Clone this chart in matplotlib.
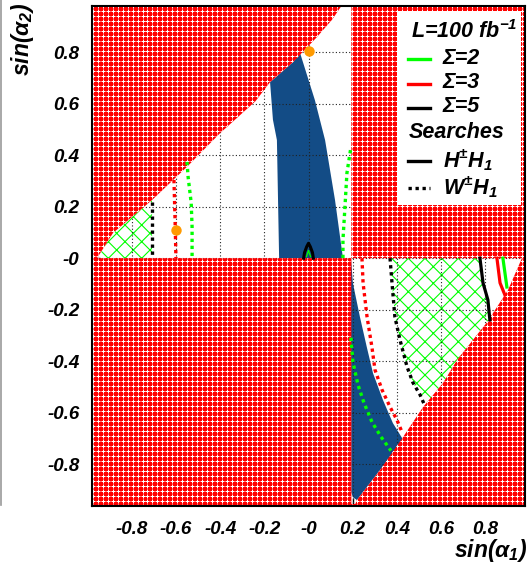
import numpy as np
import matplotlib
matplotlib.use('Agg')
import matplotlib.pyplot as plt
from matplotlib.path import Path
from matplotlib.patches import PathPatch, Polygon, Rectangle
from matplotlib.lines import Line2D

plt.rcParams['font.family'] = ['Liberation Sans', 'DejaVu Sans']
plt.rcParams['font.weight'] = 'bold'
plt.rcParams['font.style'] = 'italic'
plt.rcParams['mathtext.fontset'] = 'custom'
plt.rcParams['mathtext.rm'] = 'Liberation Sans:bold:italic'
plt.rcParams['mathtext.it'] = 'Liberation Sans:bold:italic'
plt.rcParams['mathtext.bf'] = 'Liberation Sans:bold:italic'
plt.rcParams['mathtext.sf'] = 'Liberation Sans:bold:italic'
plt.rcParams['hatch.linewidth'] = 0.8

# ---------------- data ----------------
x_lim = (-0.98, 0.98)
y_lim = (-0.963, 0.98)
tick_vals = [-0.8, -0.6, -0.4, -0.2, 0.0, 0.2, 0.4, 0.6, 0.8]
tick_labels = ['-0.8', '-0.6', '-0.4', '-0.2', '-0', '0.2', '0.4', '0.6', '0.8']

# allowed (white) regions
allowed_up_x = [-0.957, -0.885, -0.708, -0.55, -0.40, -0.24, -0.174, -0.07, 0.038, 0.106, 0.165, 0.194, 0.194]
allowed_up_y = [0.0, 0.098, 0.226, 0.355, 0.486, 0.61, 0.684, 0.762, 0.859, 0.926, 1.0, 1.0, 0.0]
allowed_lo_x = [0.194, 0.194, 0.212, 0.219, 0.324, 0.428, 0.518, 0.609, 0.672, 0.744, 0.808, 0.853, 0.903, 0.966]
allowed_lo_y = [0.0, -0.955, -0.955, -0.94, -0.823, -0.695, -0.579, -0.485, -0.396, -0.318, -0.249, -0.190, -0.124, 0.0]

# blue regions
blue_up_x = [-0.174, -0.161, -0.143, -0.133, 0.156, 0.12, 0.075, 0.029, -0.038, -0.07]
blue_up_y = [0.684, 0.538, 0.459, 0.0, 0.0, 0.226, 0.459, 0.614, 0.797, 0.762]
blue_lo_x = [0.192, 0.201, 0.233, 0.264, 0.292, 0.337, 0.382, 0.428, 0.324, 0.219, 0.2, 0.194]
blue_lo_y = [0.0, -0.097, -0.229, -0.346, -0.447, -0.551, -0.641, -0.705, -0.823, -0.94, -0.928, -0.91]

# green hatched regions
hatch_up_x = [-0.957, -0.885, -0.708, -0.708]
hatch_up_y = [0.0, 0.098, 0.226, 0.0]
hatch_lo_x = [0.369, 0.378, 0.391, 0.414, 0.446, 0.473, 0.505, 0.527, 0.609, 0.672, 0.744, 0.808, 0.821, 0.812, 0.790, 0.776]
hatch_lo_y = [0.0, -0.096, -0.228, -0.317, -0.422, -0.484, -0.531, -0.574, -0.485, -0.396, -0.318, -0.249, -0.240, -0.162, -0.096, 0.0]

# W+-H1 searches (dotted)
w_s2_a_x = [-0.55, -0.545, -0.531, -0.527, -0.527]
w_s2_a_y = [0.374, 0.316, 0.215, 0.122, 0.0]
w_s2_b_x = [0.190, 0.174, 0.165, 0.156, 0.156]
w_s2_b_y = [0.42, 0.331, 0.199, 0.071, 0.0]
w_s2_c_x = [0.192, 0.201, 0.224, 0.251, 0.287, 0.328, 0.373]
w_s2_c_y = [-0.309, -0.403, -0.492, -0.562, -0.636, -0.694, -0.748]
w_s3_a_x = [-0.609, -0.604, -0.600]
w_s3_a_y = [0.304, 0.149, 0.0]
w_s3_b_x = [0.242, 0.247, 0.265, 0.287, 0.301, 0.333, 0.369, 0.400, 0.423]
w_s3_b_y = [0.0, -0.096, -0.228, -0.345, -0.434, -0.512, -0.578, -0.628, -0.675]
w_s5_a_x = [-0.708, -0.708]
w_s5_a_y = [0.217, 0.0]
w_s5_b_x = [0.369, 0.378, 0.391, 0.414, 0.446, 0.473, 0.505, 0.527]
w_s5_b_y = [0.0, -0.096, -0.228, -0.317, -0.422, -0.484, -0.531, -0.574]

# H+-H1 searches (solid)
h_s2_x = [0.880, 0.898]
h_s2_y = [0.0, -0.112]
h_s3_x = [0.853, 0.867, 0.889]
h_s3_y = [0.0, -0.096, -0.143]
h_s5_x = [0.776, 0.790, 0.812, 0.821]
h_s5_y = [0.0, -0.096, -0.162, -0.240]

# small contour near origin
spot_black_x = [-0.022, -0.018, -0.008, 0.0, 0.008, 0.018, 0.022]
spot_black_y = [0.0, 0.022, 0.045, 0.058, 0.045, 0.022, 0.0]
spot_green_x = [-0.009, 0.0, 0.009]
spot_green_y = [0.006, 0.03, 0.006]

# benchmark points
bench_x = [0.0, -0.600]
bench_y = [0.805, 0.109]

# ---------------- styling ----------------
RED = '#ff0000'
GREEN = '#00ff00'
BLUE = '#134c86'
ORANGE = '#ff9a00'
dotted = (0, (1.0, 1.1))

fig = plt.figure(figsize=(5.28, 5.66), dpi=100)
ax = fig.add_axes([92/528, 1-506/566, 433/528, 500/566])
ax.set_xlim(*x_lim)
ax.set_ylim(*y_lim)

# blue & hatches
ax.add_patch(Polygon(np.column_stack([blue_up_x, blue_up_y]), closed=True, fc=BLUE, ec='none', zorder=1))
ax.add_patch(Polygon(np.column_stack([blue_lo_x, blue_lo_y]), closed=True, fc=BLUE, ec='none', zorder=1))
for hx, hy in [(hatch_up_x, hatch_up_y), (hatch_lo_x, hatch_lo_y)]:
    ax.add_patch(Polygon(np.column_stack([hx, hy]), closed=True, fc='none', ec=GREEN,
                         hatch='xx', lw=0, zorder=1.2))

# grid
for v in tick_vals:
    ax.axvline(v, color='#222222', lw=0.8, ls=(0, (1, 2)), zorder=2)
    ax.axhline(v, color='#222222', lw=0.8, ls=(0, (1, 2)), zorder=2)

# red excluded region = frame minus allowed regions
def ring(xs, ys, ccw=True):
    pts = np.column_stack([xs, ys])
    area = 0.5 * np.sum(pts[:, 0] * np.roll(pts[:, 1], -1) - np.roll(pts[:, 0], -1) * pts[:, 1])
    if (area > 0) != ccw:
        pts = pts[::-1]
    verts = np.vstack([pts, pts[:1]])
    codes = [Path.MOVETO] + [Path.LINETO] * (len(pts) - 1) + [Path.CLOSEPOLY]
    return verts, codes

v0, c0 = ring([-1.2, 1.2, 1.2, -1.2], [-1.2, -1.2, 1.2, 1.2], True)
v1, c1 = ring(allowed_up_x, allowed_up_y, False)
v2, c2 = ring(allowed_lo_x, allowed_lo_y, False)
red_path = Path(np.vstack([v0, v1, v2]), c0 + c1 + c2)
red_patch = PathPatch(red_path, fc=RED, ec='none', zorder=2.2)
ax.add_patch(red_patch)

# dotted texture on the red region
gx, gy = np.meshgrid(np.arange(-1.0, 1.0, 0.0226), np.arange(-1.0, 1.0, 0.0194))
tex, = ax.plot(gx.ravel(), gy.ravel(), ls='none', marker='+', ms=2.3, mew=0.7,
               color='white', zorder=2.3)
tex.set_clip_path(red_patch)

# contour lines
for xs, ys, col in [(w_s2_a_x, w_s2_a_y, GREEN), (w_s2_b_x, w_s2_b_y, GREEN), (w_s2_c_x, w_s2_c_y, GREEN),
                    (w_s3_a_x, w_s3_a_y, RED), (w_s3_b_x, w_s3_b_y, RED),
                    (w_s5_a_x, w_s5_a_y, 'black'), (w_s5_b_x, w_s5_b_y, 'black')]:
    ax.plot(xs, ys, color=col, lw=2.4, ls=dotted, dash_capstyle='butt', zorder=4)
for xs, ys, col in [(h_s2_x, h_s2_y, GREEN), (h_s3_x, h_s3_y, RED), (h_s5_x, h_s5_y, 'black')]:
    ax.plot(xs, ys, color=col, lw=2.3, ls='-', zorder=4)

ax.plot(spot_black_x, spot_black_y, color='black', lw=2.2, zorder=4)
ax.plot(spot_green_x, spot_green_y, color=GREEN, lw=0.9, zorder=4.1)

ax.plot(bench_x, bench_y, ls='none', marker='o', ms=7.5, color=ORANGE, mec='none', zorder=6)

# axes styling
ax.set_xticks(tick_vals)
ax.set_yticks(tick_vals)
ax.set_xticklabels(tick_labels)
ax.set_yticklabels(tick_labels)
ax.tick_params(axis='both', direction='in', length=6, width=1, labelsize=13.5, color='black')
ax.tick_params(axis='x', pad=11)
ax.tick_params(axis='y', pad=9)
for lab in ax.get_xticklabels() + ax.get_yticklabels():
    lab.set_fontweight('bold')
    lab.set_fontstyle('italic')
for sp in ax.spines.values():
    sp.set_linewidth(1.5)
    sp.set_zorder(7)

fig.text(527/528, 1-557/566, r'sin($\alpha_{1}$)', ha='right', va='baseline', fontsize=16.5,
         fontweight='bold', fontstyle='italic')
fig.text(22/528, 1-39/566, r'sin($\alpha_{2}$)', ha='center', va='center', rotation=90,
         fontsize=16.5, fontweight='bold', fontstyle='italic')

# legend (drawn manually in figure pixels)
def fx(px):
    return px / 528
def fy(py):
    return 1 - py / 566

fig.add_artist(Rectangle((fx(397), fy(205)), fx(521) - fx(397), fy(11) - fy(205),
                         transform=fig.transFigure, fc='white', ec='none', zorder=10))
leg_kw = dict(fontsize=15.5, fontweight='bold', fontstyle='italic', va='center', zorder=11)
fig.text(fx(411), fy(32), r'L=100 fb$^{-1}$', ha='left', **leg_kw)
fig.text(fx(409), fy(133), 'Searches', ha='left', **leg_kw)
legend_rows = [
    (59, GREEN, '-', 'Σ=2'),
    (84, RED, '-', 'Σ=3'),
    (108, 'black', '-', 'Σ=5'),
    (161, 'black', '-', r'H$^{\pm}$H$_{1}$'),
    (188, 'black', dotted, r'W$^{\pm}$H$_{1}$'),
]
for py, col, ls, lab in legend_rows:
    fig.add_artist(Line2D([fx(408), fx(430)], [fy(py), fy(py)], transform=fig.transFigure,
                          color=col, lw=2.4, ls=ls, dash_capstyle='butt', zorder=11))
    fig.text(fx(443), fy(py - 1), lab, ha='left', **leg_kw)

fig.add_artist(Line2D([0.5/528, 0.5/528], [fy(505), 1], transform=fig.transFigure,
                      color='#999999', lw=1.2))

fig.savefig('out.png', dpi=100)
